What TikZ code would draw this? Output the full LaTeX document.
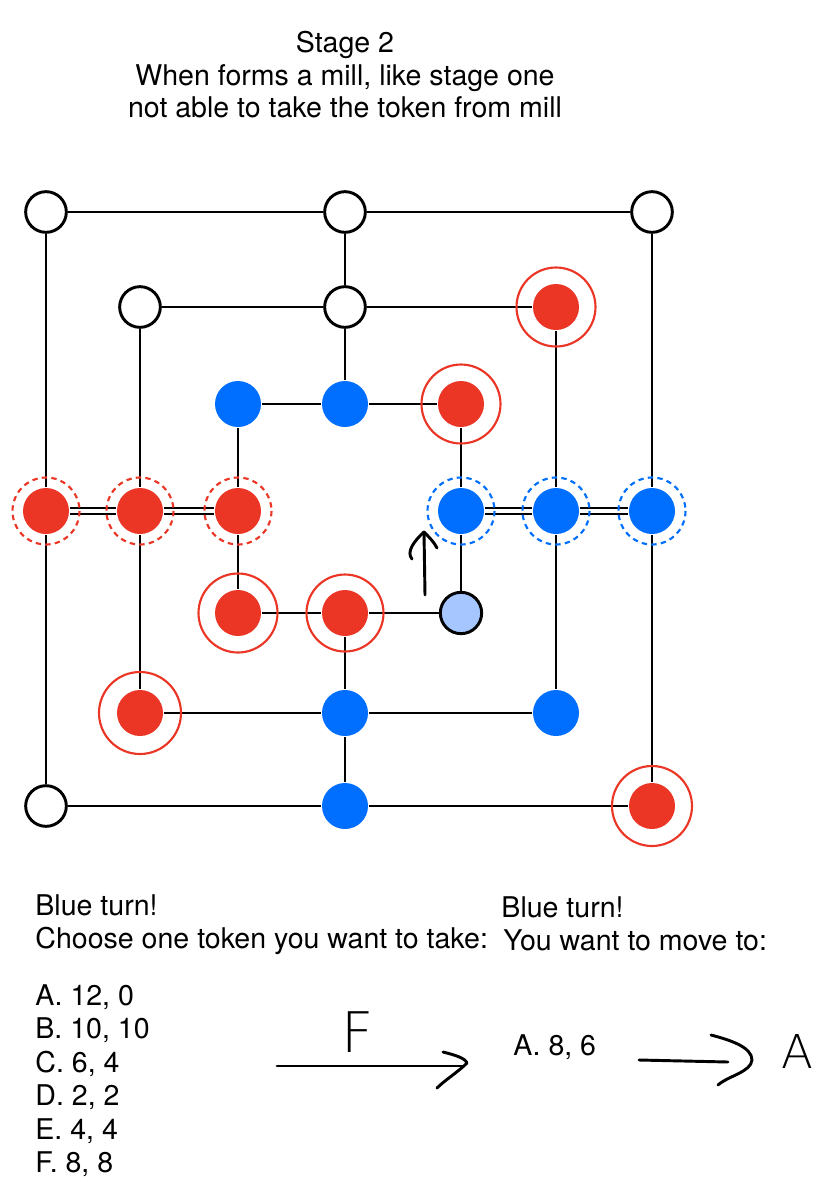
\documentclass[tikz,border=0pt]{standalone}
\usepackage{fontspec}
\setmainfont{TeX Gyre Heros}
\newfontfamily\handfont{DejaVu Sans ExtraLight}

\definecolor{tokred}{RGB}{235,53,37}
\definecolor{tokblue}{RGB}{0,110,255}
\definecolor{toklight}{RGB}{166,198,255}

\tikzset{
  emptypt/.style={circle, draw, fill=white, minimum size=30.5pt, inner sep=0pt},
  redpt/.style={circle, fill=tokred, minimum size=34.5pt, inner sep=0pt},
  bluept/.style={circle, fill=tokblue, minimum size=34.5pt, inner sep=0pt},
  movedpt/.style={circle, draw, fill=toklight, minimum size=31pt, inner sep=0pt},
  keepring/.style={draw=tokred, line width=1.6pt},
  millring/.style={draw=#1, line width=1.6pt, dash pattern=on 4pt off 3.2pt},
  millline/.style={double, double distance=2.5pt, line width=1.7pt},
  txt/.style={font=\fontsize{21.4pt}{25pt}\selectfont, inner sep=0pt, anchor=base west},
  handtxt/.style={inner sep=0pt, anchor=base},
  hand/.style={line width=2.2pt, line cap=round, line join=round}
}

\begin{document}
\begin{tikzpicture}[x=0.75pt,y=0.75pt,yscale=-1,xscale=1,line width=2.2pt]
\path[use as bounding box] (0,0) rectangle (824,1200);

% Text Node
\node (title1) [txt, anchor=base] at (345,52) {Stage 2};
% Text Node
\node (title2) [txt, anchor=base] at (345,85) {When forms a mill, like stage one};
% Text Node
\node (title3) [txt, anchor=base] at (345,117) {not able to take the token from mill};

%Shape: Circle outer square
\node (o1) [emptypt] at (46,212) {};
\node (o2) [emptypt] at (345,212) {};
\node (o3) [emptypt] at (652,212) {};
\node (o4) [bluept] at (652,511) {};
\node (o5) [redpt] at (652,806) {};
\node (o6) [bluept] at (345,806) {};
\node (o7) [emptypt] at (46,806) {};
\node (o8) [redpt] at (46,511) {};
%Shape: Circle middle square
\node (m1) [emptypt] at (140,307) {};
\node (m2) [emptypt] at (345,307) {};
\node (m3) [redpt] at (556,307) {};
\node (m4) [bluept] at (556,511) {};
\node (m5) [bluept] at (556,713) {};
\node (m6) [bluept] at (345,713) {};
\node (m7) [redpt] at (140,713) {};
\node (m8) [redpt] at (140,511) {};
%Shape: Circle inner square
\node (i1) [bluept] at (238,404) {};
\node (i2) [bluept] at (345,404) {};
\node (i3) [redpt] at (461,404) {};
\node (i4) [bluept] at (461,511) {};
\node (i5) [movedpt] at (461,613) {};
\node (i6) [redpt] at (345,613) {};
\node (i7) [redpt] at (238,613) {};
\node (i8) [redpt] at (238,511) {};

%Straight Lines squares
\draw (o1) -- (o2) -- (o3) -- (o4) -- (o5) -- (o6) -- (o7) -- (o8) -- (o1) ;
\draw (m1) -- (m2) -- (m3) -- (m4) -- (m5) -- (m6) -- (m7) -- (m8) -- (m1) ;
\draw (i1) -- (i2) -- (i3) -- (i4) -- (i5) -- (i6) -- (i7) -- (i8) -- (i1) ;
%Straight Lines cross
\draw (o2) -- (m2) -- (i2) ;
\draw (i6) -- (m6) -- (o6) ;
%Double Lines mills
\draw [millline] (o8) -- (m8) ;
\draw [millline] (m8) -- (i8) ;
\draw [millline] (i4) -- (m4) ;
\draw [millline] (m4) -- (o4) ;

%Shape: Circle rings
\draw [keepring] (m3) circle [radius=39.5] ;
\draw [keepring] (i3) circle [radius=39.5] ;
\draw [keepring] (i7) circle [radius=39.5] ;
\draw [keepring] (i6) circle [radius=38.5] ;
\draw [keepring] (m7) circle [radius=41] ;
\draw [keepring] (o5) circle [radius=40] ;
\draw [millring=tokred] (o8) circle [radius=33.5] ;
\draw [millring=tokred] (m8) circle [radius=33.5] ;
\draw [millring=tokred] (i8) circle [radius=33.5] ;
\draw [millring=tokblue] (i4) circle [radius=33.5] ;
\draw [millring=tokblue] (m4) circle [radius=33.5] ;
\draw [millring=tokblue] (o4) circle [radius=33.5] ;

%Hand Arrow up
\coordinate (up1) at (425,595) ;
\coordinate (up2) at (424,532) ;
\draw [hand] (up1) -- (up2) ;
\draw [hand] (412,559) .. controls (406,552) and (414,541) .. (up2) .. controls (429,537) and (434,542) .. (437,548) ;

% Text Node
\node (blue1) [txt] at (34,915) {Blue turn!};
\node (choose) [txt] at (34,948) {Choose one token you want to take:};
% Text Node
\node (optA) [txt] at (34,1005) {A. 12, 0};
\node (optB) [txt] at (34,1038) {B. 10, 10};
\node (optC) [txt] at (34,1072) {C. 6, 4};
\node (optD) [txt] at (34,1105) {D. 2, 2};
\node (optE) [txt] at (34,1139) {E. 4, 4};
\node (optF) [txt] at (34,1172) {F. 8, 8};
% Text Node
\node (blue2) [txt] at (500,917) {Blue turn!};
\node (moveto) [txt] at (502,950) {You want to move to:};
\node (moveA) [txt] at (512,1055) {A. 8, 6};

%Hand Arrow one
\coordinate (f1) at (277,1066) ;
\coordinate (f2) at (463,1066) ;
\draw [hand] (f1) -- (f2) ;
\draw [hand] (443,1052) .. controls (455,1055) and (465,1058) .. (467,1063) .. controls (458,1072) and (445,1080) .. (437,1088) ;
\node (handF) [handtxt, font=\handfont\fontsize{42pt}{42pt}\selectfont] at (358,1052) {F};

%Hand Arrow two
\coordinate (a1) at (639,1060) ;
\coordinate (a2) at (728,1062) ;
\draw [hand] (a1) -- (a2) ;
\draw [hand] (711,1035) .. controls (730,1040) and (752,1047) .. (752,1060) .. controls (751,1072) and (728,1076) .. (718,1085) ;
\node (handA) [handtxt, font=\handfont\fontsize{35pt}{35pt}\selectfont] at (797,1068) {A};

\end{tikzpicture}
\end{document}
